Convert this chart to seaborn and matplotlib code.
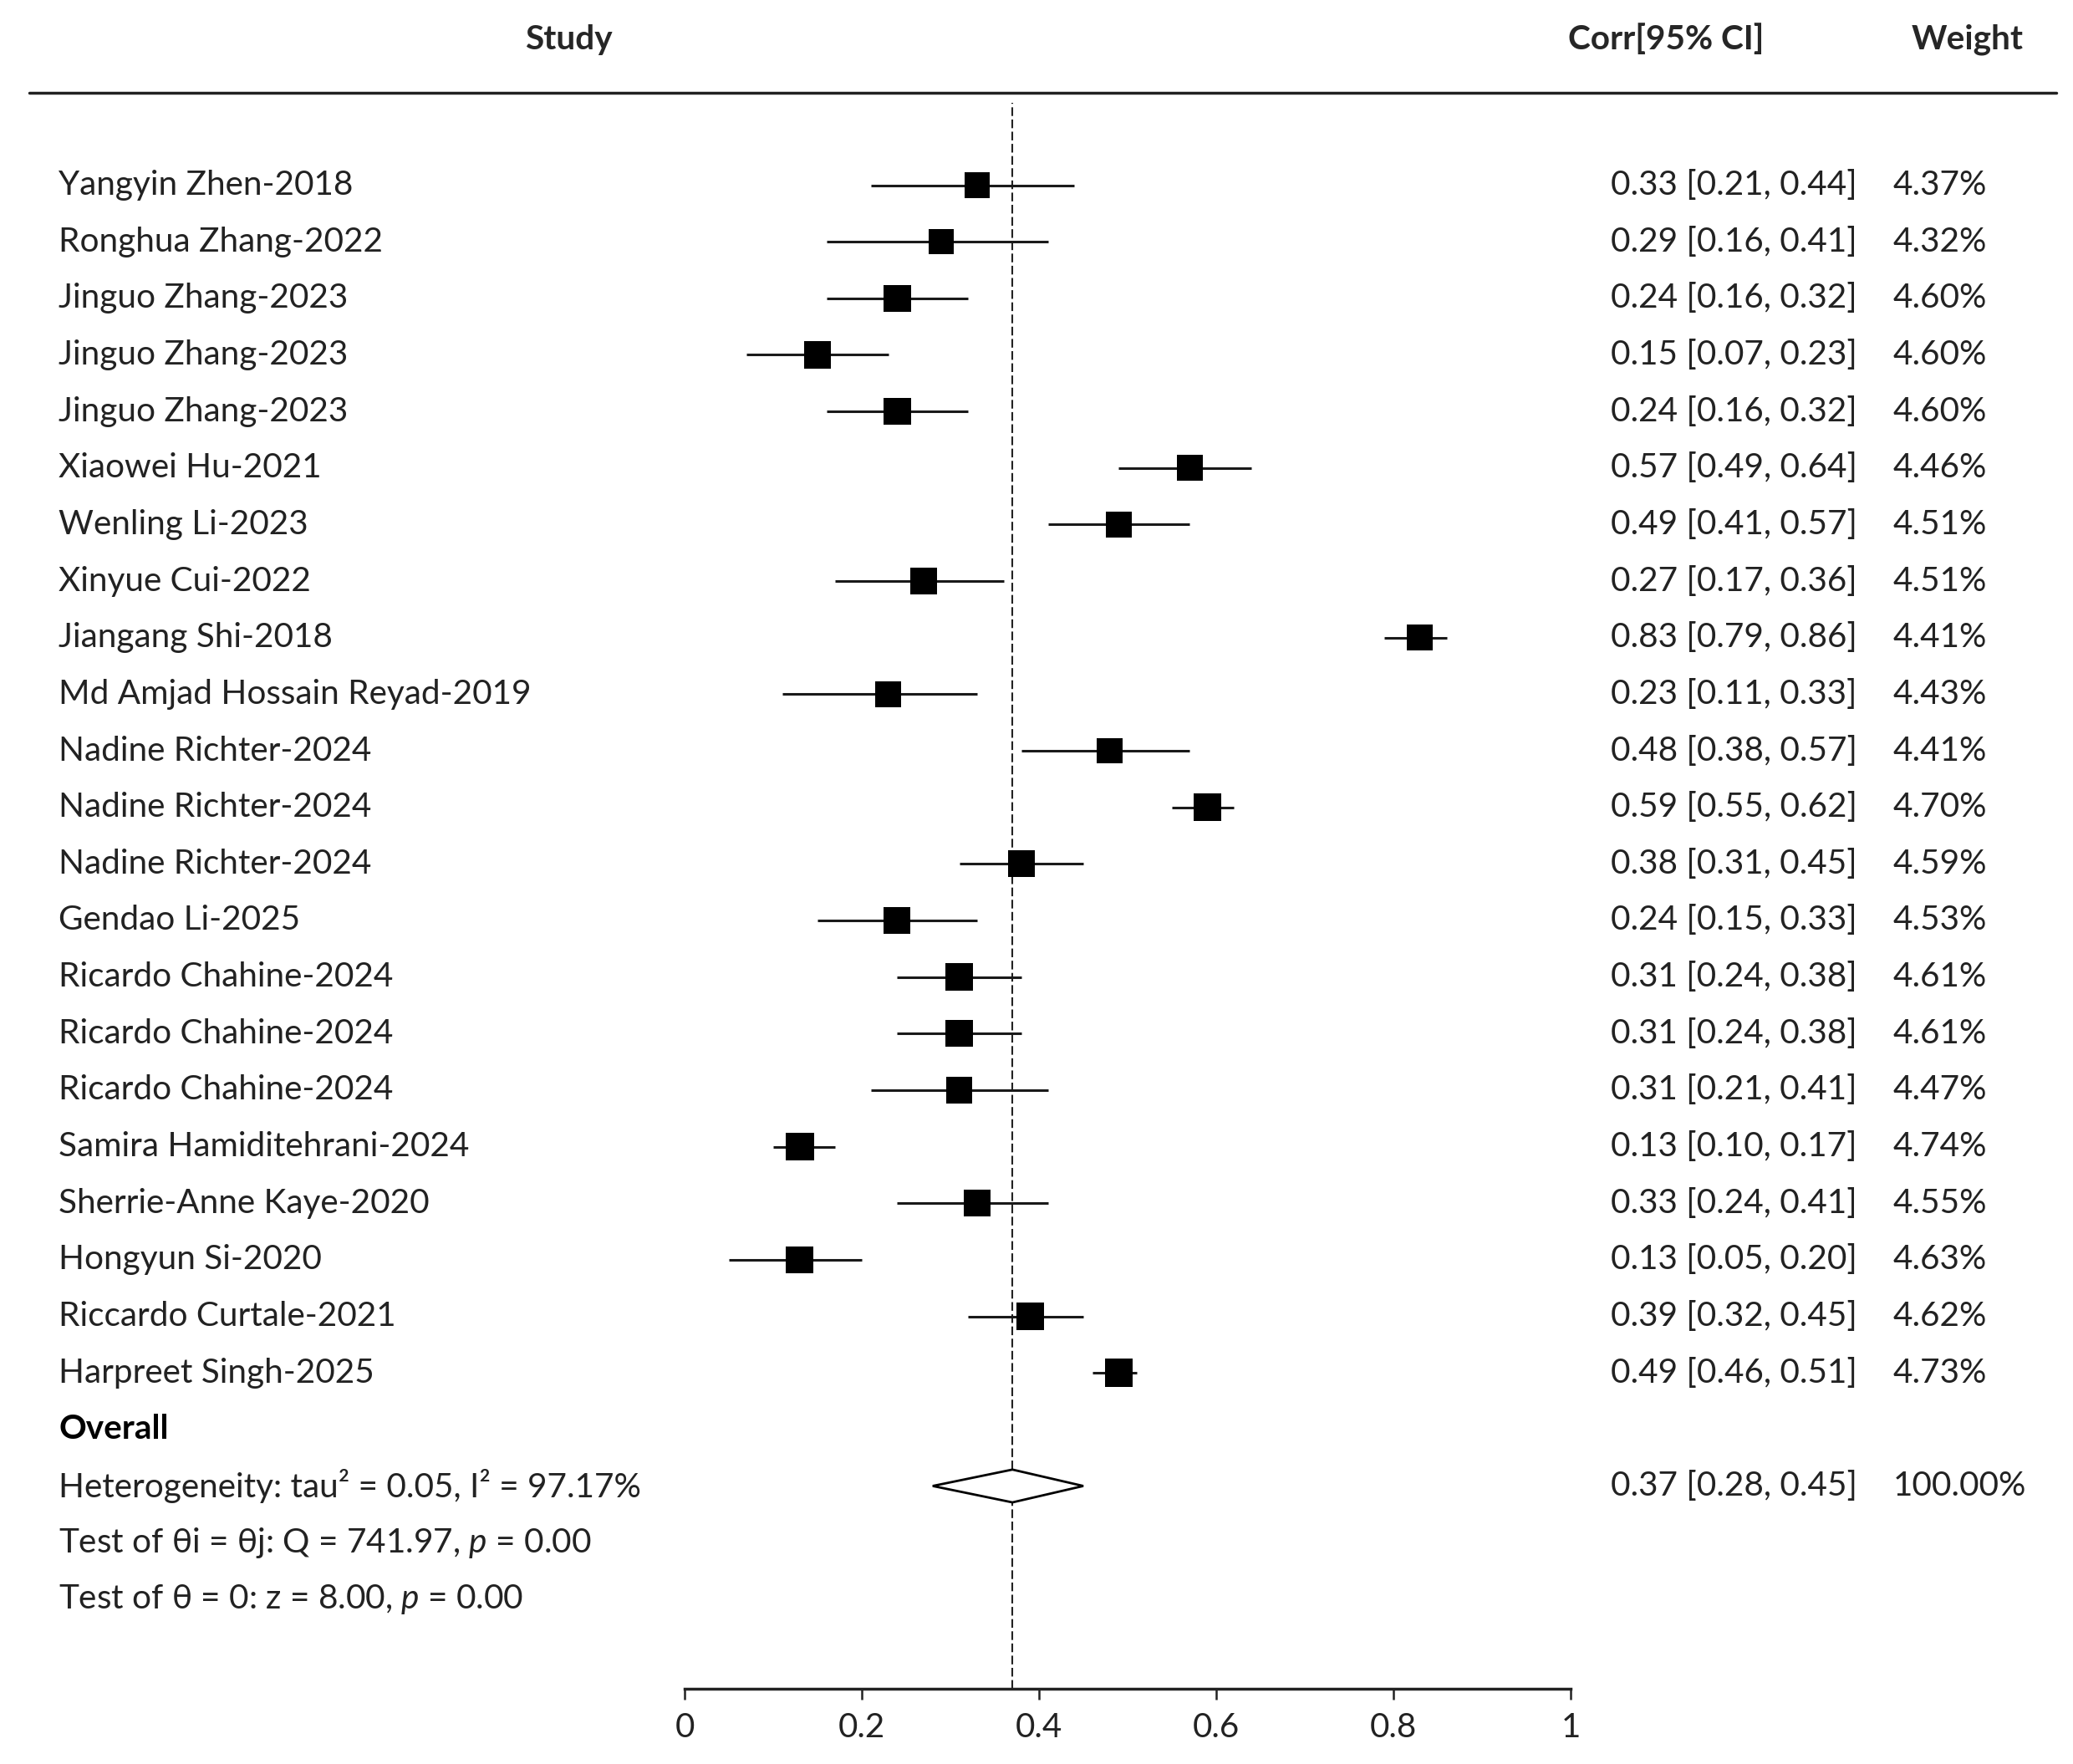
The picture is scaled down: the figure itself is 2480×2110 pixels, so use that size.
import matplotlib
matplotlib.use("Agg")
import matplotlib.pyplot as plt
import matplotlib.transforms as mtransforms
from matplotlib.lines import Line2D
from matplotlib.patches import Polygon
import pandas as pd
import seaborn as sns

# Study-level data
studies = ["Yangyin Zhen-2018", "Ronghua Zhang-2022", "Jinguo Zhang-2023", "Jinguo Zhang-2023",
           "Jinguo Zhang-2023", "Xiaowei Hu-2021", "Wenling Li-2023", "Xinyue Cui-2022",
           "Jiangang Shi-2018", "Md Amjad Hossain Reyad-2019", "Nadine Richter-2024",
           "Nadine Richter-2024", "Nadine Richter-2024", "Gendao Li-2025", "Ricardo Chahine-2024",
           "Ricardo Chahine-2024", "Ricardo Chahine-2024", "Samira Hamiditehrani-2024",
           "Sherrie-Anne Kaye-2020", "Hongyun Si-2020", "Riccardo Curtale-2021", "Harpreet Singh-2025"]
corr = [0.33, 0.29, 0.24, 0.15, 0.24, 0.57, 0.49, 0.27, 0.83, 0.23, 0.48,
        0.59, 0.38, 0.24, 0.31, 0.31, 0.31, 0.13, 0.33, 0.13, 0.39, 0.49]
ci_low = [0.21, 0.16, 0.16, 0.07, 0.16, 0.49, 0.41, 0.17, 0.79, 0.11, 0.38,
          0.55, 0.31, 0.15, 0.24, 0.24, 0.21, 0.10, 0.24, 0.05, 0.32, 0.46]
ci_high = [0.44, 0.41, 0.32, 0.23, 0.32, 0.64, 0.57, 0.36, 0.86, 0.33, 0.57,
           0.62, 0.45, 0.33, 0.38, 0.38, 0.41, 0.17, 0.41, 0.20, 0.45, 0.51]
weights = [4.37, 4.32, 4.60, 4.60, 4.60, 4.46, 4.51, 4.51, 4.41, 4.43, 4.41,
           4.70, 4.59, 4.53, 4.61, 4.61, 4.47, 4.74, 4.55, 4.63, 4.62, 4.73]

# Pooled estimate
overall = 0.37
overall_low = 0.28
overall_high = 0.45
overall_weight = 100.0
stat_lines = ["Heterogeneity: tau² = 0.05, I² = 97.17%",
              "Test of θi = θj: Q = 741.97, $p$ = 0.00",
              "Test of θ = 0: z = 8.00, $p$ = 0.00"]
x_ticks = [0, 0.2, 0.4, 0.6, 0.8, 1]
x_tick_labels = ["0", "0.2", "0.4", "0.6", "0.8", "1"]

df = pd.DataFrame({"study": studies, "corr": corr, "low": ci_low,
                   "high": ci_high, "weight": weights})
df["row"] = range(len(df))

sns.set_style("white")
plt.rcParams["font.family"] = ["Lato", "DejaVu Sans"]
plt.rcParams["mathtext.fontset"] = "custom"
plt.rcParams["mathtext.rm"] = "Lato"
plt.rcParams["mathtext.it"] = "Lato:italic"

W, H = 2480, 2110
fig = plt.figure(figsize=(24.8, 21.1), dpi=100)
# axes spans the plotting column: x 0..1 maps to pixel 819..1879
ax = fig.add_axes([819 / W, 1 - 2020 / H, 1060 / W, (2020 - 123) / H])

row0, row_step = 221.5, 67.65
ax.set_xlim(0, 1)
ax.set_ylim((2020 - row0) / row_step, (123 - row0) / row_step)

# CI whiskers and weighted squares
ax.hlines(df["row"], df["low"], df["high"], color="#1a1a1a", lw=2.2, zorder=2)
sns.scatterplot(data=df, x="corr", y="row", size="weight", sizes=(470, 580),
                size_norm=(4.32, 4.74), marker="s", color="black", linewidth=0,
                legend=False, ax=ax, zorder=3)

# pooled diamond on heterogeneity row
drow = len(df) + 1
ax.add_patch(Polygon([[overall_low, drow], [overall, drow - 0.29],
                      [overall_high, drow], [overall, drow + 0.29]],
                     closed=True, facecolor="white", edgecolor="black", lw=2.0, zorder=3))
ax.axvline(overall, color="#222222", lw=1.5, ls=(0, (5, 2)), zorder=1)

# axis styling
for side in ["top", "right", "left"]:
    ax.spines[side].set_visible(False)
ax.spines["bottom"].set_linewidth(2.5)
ax.spines["bottom"].set_color("#222222")
ax.set_yticks([])
ax.set_xticks(x_ticks)
ax.set_xticklabels(x_tick_labels)
ax.tick_params(axis="x", direction="out", length=9, width=1.8, pad=11,
               labelsize=29, colors="#222222", bottom=True)
ax.set_xlabel("")
ax.set_ylabel("")

# text columns
trans = mtransforms.blended_transform_factory(fig.transFigure, ax.transData)
fs = 29.2
txt_color = "#222222"
for i, r in df.iterrows():
    ax.text(70 / W, r["row"], r["study"], transform=trans, fontsize=fs,
            va="center", ha="left", color=txt_color)
    ax.text(1927 / W, r["row"], f"{r['corr']:.2f} [{r['low']:.2f}, {r['high']:.2f}]",
            transform=trans, fontsize=fs, va="center", ha="left", color=txt_color)
    ax.text(2265 / W, r["row"], f"{r['weight']:.2f}%", transform=trans, fontsize=fs,
            va="center", ha="left", color=txt_color)

ax.text(70 / W, len(df), "Overall", transform=trans, fontsize=fs,
        fontweight="bold", va="center", ha="left", color="black")
for k, line in enumerate(stat_lines):
    ax.text(70 / W, len(df) + 1 + k, line, transform=trans, fontsize=fs,
            va="center", ha="left", color=txt_color)
ax.text(1927 / W, drow, f"{overall:.2f} [{overall_low:.2f}, {overall_high:.2f}]",
        transform=trans, fontsize=fs, va="center", ha="left", color=txt_color)
ax.text(2265 / W, drow, f"{overall_weight:.2f}%", transform=trans, fontsize=fs,
        va="center", ha="left", color=txt_color)

# header
hy = 1 - 47 / H
fig.text(680 / W, hy, "Study", fontsize=fs, fontweight="bold", ha="center", va="center")
fig.text(1993 / W, hy, "Corr[95% CI]", fontsize=fs, fontweight="bold", ha="center", va="center")
fig.text(2354 / W, hy, "Weight", fontsize=fs, fontweight="bold", ha="center", va="center")
fig.add_artist(Line2D([35 / W, 2460 / W], [1 - 111 / H, 1 - 111 / H],
                      color="#222222", lw=2.5))

fig.savefig("out.png", dpi=100)
plt.close(fig)
